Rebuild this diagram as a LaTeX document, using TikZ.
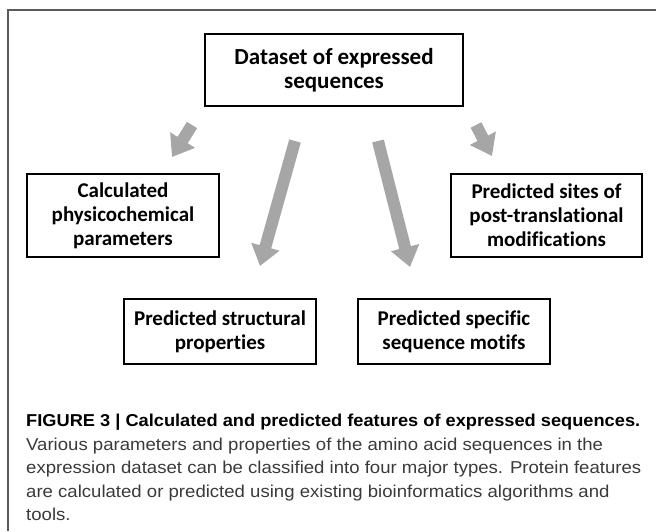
\documentclass[tikz,border=0pt]{standalone}
\usepackage{fontspec}
\setmainfont[Ligatures=NoCommon]{Carlito}
\newfontfamily\capfont[FakeStretch=1.08]{Liberation Sans}
\newfontfamily\capbold[FakeStretch=1.06]{Liberation Sans Bold}
\usetikzlibrary{arrows.meta}
\definecolor{arrowgray}{HTML}{A6A6A6}
\definecolor{framegray}{HTML}{5A5A5A}
\definecolor{textgray}{HTML}{3A3A3A}

\begin{document}
\begin{tikzpicture}[x=1pt, y=-1pt,
    box/.style={draw, line width=2.4pt, align=center, inner sep=0pt,
        font=\fontsize{21}{24}\selectfont\bfseries},
    fatarrow/.style={arrowgray, line width=12pt, -{Triangle[width=28pt, length=20pt]}}]
    \useasboundingbox (0,0) rectangle (656,531);

    % Draw the frame (top and left edges only)
    \draw[framegray, line width=1.5pt] (656,10) -- (8,10) -- (8,531);

    % Draw the boxes
    \node[box, minimum width=258pt, minimum height=72pt, font=\fontsize{23}{24.5}\selectfont\bfseries] (dataset) at (334,70) {Dataset of expressed\\sequences};
    \node[box, minimum width=192pt, minimum height=83pt] (physchem) at (123,215.5) {Calculated\\physicochemical\\parameters};
    \node[box, minimum width=191pt, minimum height=83pt] (ptmsites) at (546.5,215.5) {Predicted sites of\\post-translational\\modifications};
    \node[box, minimum width=192pt, minimum height=65pt] (structural) at (220,331.5) {Predicted structural\\properties};
    \node[box, minimum width=192pt, minimum height=65pt] (motifs) at (454,331.5) {Predicted specific\\sequence motifs};

    % Arrow end points (arrows float between the boxes)
    \foreach \n/\xs/\ys/\xe/\ye in {1/192/125/172/157, 2/295/141/260/266, 3/378/141/410/267, 4/476/125/492/156} {
        \coordinate (from\n) at (\xs,\ys);
        \coordinate (to\n) at (\xe,\ye);
    }
    % Draw the grey block arrows
    \foreach \n in {1,...,4}
        \draw[fatarrow] (from\n) -- (to\n);

    % Caption
    \node[anchor=north west, align=left, inner sep=0pt, text=textgray,
        font=\capfont\fontsize{17.2}{23.5}\selectfont] (caption) at (26,414)
        {{\color{black}\capbold FIGURE 3 | Calculated and predicted features of expressed sequences.}\\
         Various parameters and properties of the amino acid sequences in the\\
         expression dataset can be classified into four major types. Protein features\\
         are calculated or predicted using existing bioinformatics algorithms and\\
         tools.};
\end{tikzpicture}
\end{document}
